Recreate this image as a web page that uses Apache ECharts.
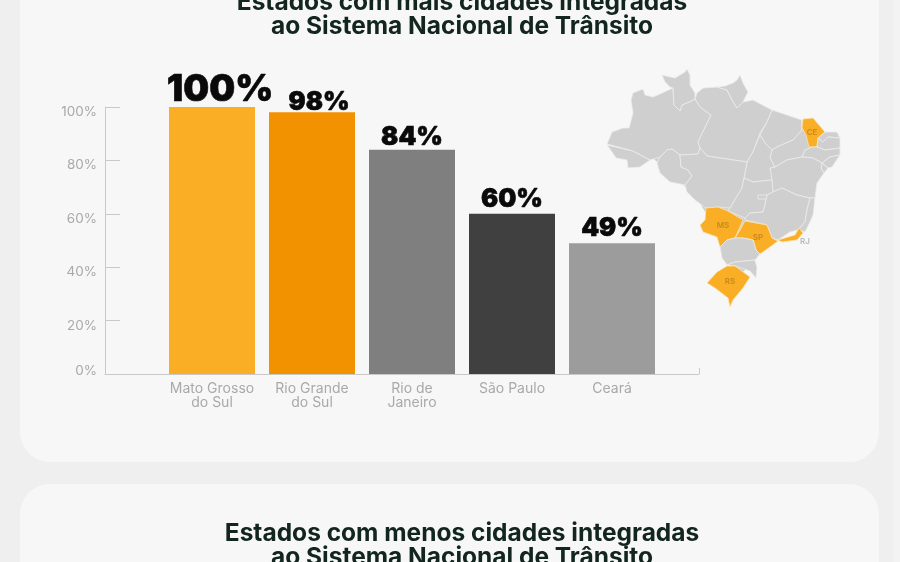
<!DOCTYPE html>
<html lang="pt-BR">
<head>
<meta charset="utf-8">
<title>Cidades integradas ao Sistema Nacional de Trânsito</title>
<style>
  html, body { margin: 0; padding: 0; background: #efefef; }
  #chart { width: 900px; height: 562px; }
</style>
<script src="https://cdn.jsdelivr.net/npm/echarts@6/dist/echarts.min.js"></script>
</head>
<body>
<div id="chart"></div>
<script>
// Percentual de cidades integradas por estado
const categories = ['Mato Grosso\ndo Sul', 'Rio Grande\ndo Sul', 'Rio de\nJaneiro', 'São Paulo', 'Ceará'];
const integrated = [100, 98, 84, 60, 49];
const barColors = ['#f9ae25', '#f39200', '#7f7f7f', '#404040', '#9c9c9c'];
const axisTicks = [0, 20, 40, 60, 80, 100];

const titleTop = 'Estados com mais cidades integradas\nao Sistema Nacional de Trânsito';
const titleBottom = 'Estados com menos cidades integradas\nao Sistema Nacional de Trânsito';

// Contornos simplificados das unidades federativas, em unidades locais do mapa.
// BASE é um preenchimento interno que fecha as frestas entre os contornos.
const stateOutlines = {
  BASE: [[30,75],[70,50],[100,45],[130,50],[165,60],[200,68],[232,85],[222,105],[212,135],[200,165],[170,175],[150,190],[145,210],[140,215],[125,195],[118,180],[110,160],[95,135],[75,118],[55,100]],
  AC: [[7,85],[12,92],[16,98],[27,100],[28,108],[40,107],[50,100],[33,91]],
  AM: [[7,84],[12,72],[23,68],[29,68],[33,53],[31,40],[33,33],[43,29],[45,35],[53,37],[62,33],[73,28],[74,45],[80,51],[82,45],[89,42],[95,39],[100,47],[111,55],[98,82],[100,88],[98,94],[80,95],[72,89],[67,90],[60,97],[50,100],[33,91]],
  RR: [[62,15],[75,18],[85,12],[87,9],[90,15],[90,25],[95,33],[95,39],[89,42],[82,45],[80,51],[74,45],[73,28],[70,27],[65,22]],
  RO: [[60,97],[57,103],[60,113],[70,122],[85,125],[92,116],[88,110],[81,107],[80,95],[72,89],[67,90]],
  PA: [[95,39],[100,47],[111,55],[98,82],[100,88],[107,96],[147,102],[153,92],[160,73],[167,62],[172,50],[153,40],[143,42],[137,48],[132,40],[127,30],[117,27],[103,28],[97,33]],
  AP: [[117,27],[125,26],[133,23],[137,20],[140,15],[143,23],[148,32],[143,42],[137,48],[132,40],[127,30]],
  MA: [[172,50],[187,55],[202,60],[202,70],[193,80],[177,87],[172,90],[165,83],[160,75],[167,62]],
  PI: [[202,60],[202,70],[193,80],[177,87],[172,90],[170,98],[175,107],[187,100],[202,97],[205,90],[212,87],[207,75],[204,68]],
  CE: [[203,59],[213,58],[225,72],[218,78],[217,87],[209,87],[206,75],[202,68]],
  RN: [[225,72],[237,72],[240,78],[228,77],[223,82],[218,78]],
  PB: [[218,78],[223,82],[228,77],[240,78],[240,88],[225,90],[217,87]],
  PE: [[217,87],[225,90],[240,88],[240,95],[230,97],[222,103],[213,98],[202,97],[205,90],[212,87]],
  AL: [[222,103],[230,97],[240,95],[232,107],[228,108]],
  SE: [[222,103],[228,108],[224,113],[221,108]],
  BA: [[175,107],[187,100],[202,97],[213,98],[222,103],[221,108],[224,113],[217,123],[215,138],[210,138],[197,135],[182,128],[173,132],[170,108]],
  TO: [[160,75],[165,83],[172,90],[170,98],[175,107],[170,108],[172,120],[153,122],[144,118],[147,102],[153,92]],
  MT: [[80,95],[98,94],[100,88],[107,96],[147,102],[144,118],[142,128],[130,148],[118,147],[106,148],[95,140],[87,132],[85,125],[92,116],[88,110],[81,107]],
  GO: [[144,118],[153,122],[172,120],[173,132],[167,135],[165,145],[163,152],[150,153],[145,158],[128,151],[130,148],[142,128]],
  DF: [[158,135],[167,135],[167,139],[158,139]],
  MG: [[167,135],[173,132],[182,128],[197,135],[210,138],[207,150],[205,162],[198,170],[190,172],[178,180],[172,178],[167,165],[145,160],[145,158],[150,153],[163,152],[165,145]],
  ES: [[210,138],[215,138],[213,155],[210,162],[205,172],[198,170],[205,162],[207,150]],
  RJ: [[178,180],[195,175],[199,168],[203,173],[197,180],[182,182]],
  SP: [[135,178],[140,170],[145,161],[167,165],[172,178],[178,181],[170,187],[160,194],[156,190],[153,180],[143,178]],
  MS: [[106,148],[118,147],[128,151],[143,160],[135,178],[127,180],[120,187],[117,177],[103,172],[100,165],[105,160]],
  PR: [[120,187],[127,180],[135,178],[143,178],[153,180],[156,190],[160,194],[155,200],[135,202],[127,205],[122,198]],
  SC: [[127,205],[135,202],[155,200],[157,208],[156,218],[150,211],[135,206]],
  RS: [[107,223],[117,212],[127,206],[135,206],[150,217],[143,228],[133,240],[130,247],[128,238],[115,228]]
};
const highlightedStates = ['CE', 'MS', 'SP', 'RJ', 'RS'];
const stateTags = [
  { name: 'CE', value: [212, 73] },
  { name: 'MS', value: [123, 166] },
  { name: 'SP', value: [158, 178] },
  { name: 'RS', value: [130, 222] },
  { name: 'RJ', value: [205, 182] }
];

const brazil = {
  type: 'FeatureCollection',
  features: Object.keys(stateOutlines).map(function (uf) {
    const ring = stateOutlines[uf].concat([stateOutlines[uf][0]]);
    return { type: 'Feature', properties: { name: uf }, geometry: { type: 'Polygon', coordinates: [ring] } };
  })
};
echarts.registerMap('brasil', brazil);

const axisGrey = '#c9c9c9';
const labelGrey = '#a9a9a9';
const uiFont = 'Inter, "Noto Sans", sans-serif';

// Deslocamento de cada rótulo de valor em relação ao topo da barra
const valueLabelOffsets = [[8, 7], [7, 8], [0, 6], [0, 4], [0, 3]];

const chart = echarts.init(document.getElementById('chart'), null, { renderer: 'canvas' });

chart.setOption({
  animation: false,
  backgroundColor: '#efefef',
  graphic: [
    { type: 'rect', z: -10, silent: true, shape: { x: 893, y: 0, width: 7, height: 562 }, style: { fill: '#f3f3f3' } },
    { type: 'rect', z: -9, silent: true, shape: { x: 20, y: -60, width: 859, height: 522, r: 30 }, style: { fill: '#f7f7f7' } },
    { type: 'rect', z: -9, silent: true, shape: { x: 20, y: 484, width: 859, height: 140, r: 30 }, style: { fill: '#f7f7f7' } }
  ],
  title: [
    { text: titleTop, left: 457, top: -15, textAlign: 'center',
      textStyle: { fontFamily: uiFont, fontSize: 24.5, fontWeight: 700, color: '#12251f', lineHeight: 24.5 } },
    { text: titleBottom, left: 457, top: 516, textAlign: 'center',
      textStyle: { fontFamily: uiFont, fontSize: 24.5, fontWeight: 700, color: '#12251f', lineHeight: 24.5 } }
  ],
  grid: [
    { left: 105, top: 107, width: 594, height: 267 },
    { left: 162, top: 107, width: 500, height: 267 }
  ],
  xAxis: [
    { gridIndex: 0, type: 'value', min: 0, max: 1, interval: 1,
      axisLine: { show: true, lineStyle: { color: axisGrey, width: 1 } },
      axisTick: { show: true, inside: true, length: 6, lineStyle: { color: axisGrey, width: 1 } },
      axisLabel: { show: false }, splitLine: { show: false } },
    { gridIndex: 1, type: 'category', data: categories,
      axisLine: { show: false }, axisTick: { show: false },
      axisLabel: { color: labelGrey, fontFamily: uiFont, fontSize: 14, lineHeight: 14, margin: 8, interval: 0 } }
  ],
  yAxis: [
    { gridIndex: 0, type: 'value', position: 'left', min: 0, max: 100, interval: 20,
      axisLine: { show: true, lineStyle: { color: axisGrey, width: 1 } },
      axisTick: { show: true, inside: true, length: 15, lineStyle: { color: axisGrey, width: 1 } },
      splitLine: { show: false },
      axisLabel: { formatter: '{value}%', color: labelGrey, fontFamily: uiFont, fontSize: 13.5, margin: 8,
        verticalAlign: 'top', lineHeight: 10, customValues: axisTicks.slice(1) } },
    { gridIndex: 0, type: 'value', position: 'left', min: 0, max: 100, interval: 20,
      axisLine: { show: false }, axisTick: { show: false }, splitLine: { show: false },
      axisLabel: { formatter: '{value}%', color: labelGrey, fontFamily: uiFont, fontSize: 13.5, margin: 8,
        verticalAlign: 'bottom', lineHeight: 7, customValues: axisTicks.slice(0, 1) } },
    { gridIndex: 1, type: 'value', min: 0, max: 100, show: false }
  ],
  geo: {
    map: 'brasil',
    projection: { project: function (p) { return p; }, unproject: function (p) { return p; } },
    left: 607, top: 69, width: 233, height: 238,
    roam: false, silent: true,
    label: { show: false },
    itemStyle: { areaColor: '#cfcfcf', borderColor: '#ececec', borderWidth: 0.8 },
    regions: [{ name: 'BASE', itemStyle: { areaColor: '#cfcfcf', borderWidth: 0 } }].concat(
      highlightedStates.map(function (uf) {
        return { name: uf, itemStyle: { areaColor: '#f9ae25', borderColor: '#fbe3b4', borderWidth: 0.8 } };
      }))
  },
  series: [
    {
      type: 'bar', xAxisIndex: 1, yAxisIndex: 2, barWidth: 86,
      data: integrated.map(function (v, i) {
        return {
          value: v,
          itemStyle: { color: barColors[i] },
          label: { fontSize: i === 0 ? 36.5 : 25.5, offset: valueLabelOffsets[i] }
        };
      }),
      label: { show: true, position: 'top', formatter: '{c}%', color: '#0a0a0a',
        fontFamily: uiFont, fontWeight: 900, textBorderColor: '#0a0a0a', textBorderWidth: 0.6 }
    },
    {
      type: 'scatter', coordinateSystem: 'geo', geoIndex: 0, symbolSize: 0, silent: true,
      data: stateTags.map(function (tag) {
        return {
          name: tag.name, value: tag.value,
          label: { color: tag.name === 'RJ' ? '#a9a9a9' : '#bd7f1c' }
        };
      }),
      label: { show: true, position: 'inside', formatter: '{b}', fontFamily: uiFont, fontSize: 8, fontWeight: 600 }
    }
  ]
});
</script>
</body>
</html>
